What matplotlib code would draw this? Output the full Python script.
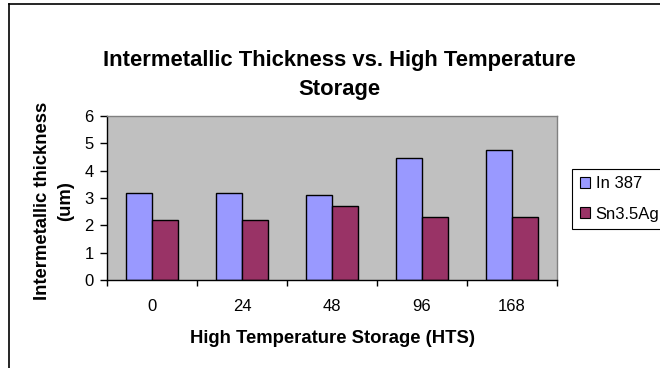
import matplotlib
matplotlib.use("Agg")
import matplotlib.pyplot as plt
from matplotlib.patches import Patch
from matplotlib.lines import Line2D
import numpy as np

categories = ["0", "24", "48", "96", "168"]
in387 = [3.2, 3.2, 3.1, 4.45, 4.75]
sn35ag = [2.2, 2.2, 2.7, 2.3, 2.3]
series_names = ["In 387", "Sn3.5Ag"]
y_ticks = [0, 1, 2, 3, 4, 5, 6]
title_lines = ["Intermetallic Thickness vs. High Temperature", "Storage"]
ylabel_lines = ["Intermetallic thickness", "(um)"]
xlabel = "High Temperature Storage (HTS)"

plt.rcParams['font.family'] = ['Liberation Sans', 'DejaVu Sans']

W, H = 660, 368
fig = plt.figure(figsize=(W / 100, H / 100), dpi=100)
fig.patch.set_facecolor('white')

ax = fig.add_axes([107 / W, 1 - 280 / H, (557 - 107) / W, (280 - 116) / H])
ax.set_facecolor('#C0C0C0')

x = np.arange(len(categories))
bw = 1 / 3.5
ax.bar(x - bw / 2, in387, bw, color='#9999FF', edgecolor='black', linewidth=1.0, label=series_names[0])
ax.bar(x + bw / 2, sn35ag, bw, color='#993366', edgecolor='black', linewidth=1.0, label=series_names[1])

ax.set_xlim(-0.5, len(categories) - 0.5)
ax.set_ylim(0, 6)
ax.set_yticks(y_ticks)
ax.set_yticklabels([str(v) for v in y_ticks], fontsize=12)
ax.set_xticks(x)
ax.set_xticklabels(categories, fontsize=12)
ax.tick_params(axis='x', length=0, pad=13.5)
ax.set_xticks(np.arange(len(categories) + 1) - 0.5, minor=True)
ax.tick_params(axis='x', which='minor', length=4, width=1, direction='out')
ax.tick_params(axis='y', length=5, width=1, direction='out', pad=4.5)

for side in ['left', 'bottom']:
    ax.spines[side].set_color('black')
    ax.spines[side].set_linewidth(1.0)
for side in ['top', 'right']:
    ax.spines[side].set_color('#808080')
    ax.spines[side].set_linewidth(1.0)

ax.set_xlabel(xlabel, fontsize=13.3, fontweight='bold', labelpad=11.5)

# y label as two rotated lines
fig.text(47 / W, 1 - 201 / H, ylabel_lines[0], rotation=90, rotation_mode='anchor',
         ha='center', va='baseline', fontsize=13.3, fontweight='bold')
fig.text(70 / W, 1 - 201 / H, ylabel_lines[1], rotation=90, rotation_mode='anchor',
         ha='center', va='baseline', fontsize=13.3, fontweight='bold')

# title, two lines
fig.text(339 / W, 1 - 66 / H, title_lines[0], ha='center', va='baseline',
         fontsize=15.8, fontweight='bold')
fig.text(339 / W, 1 - 95 / H, title_lines[1], ha='center', va='baseline',
         fontsize=15.8, fontweight='bold')

handles = [Patch(facecolor='#9999FF', edgecolor='black', linewidth=0.8),
           Patch(facecolor='#993366', edgecolor='black', linewidth=0.8)]
leg = fig.legend(handles, series_names, loc='upper left',
                 bbox_to_anchor=(572 / W, 1 - 169 / H), fontsize=12,
                 handlelength=0.6, handleheight=0.6, handletextpad=0.36,
                 borderpad=0.45, borderaxespad=0, labelspacing=0.9,
                 fancybox=False, framealpha=1, edgecolor='black')
leg.get_frame().set_linewidth(0.8)

# outer chart-area border (cut by image edge at right and bottom)
fig.add_artist(Line2D([8.5 / W, 8.5 / W], [1 - 3.5 / H, 0], transform=fig.transFigure,
                      color='black', linewidth=1.2))
fig.add_artist(Line2D([8.5 / W, 1], [1 - 3.5 / H, 1 - 3.5 / H], transform=fig.transFigure,
                      color='black', linewidth=1.2))

fig.savefig("out.png", dpi=100)
